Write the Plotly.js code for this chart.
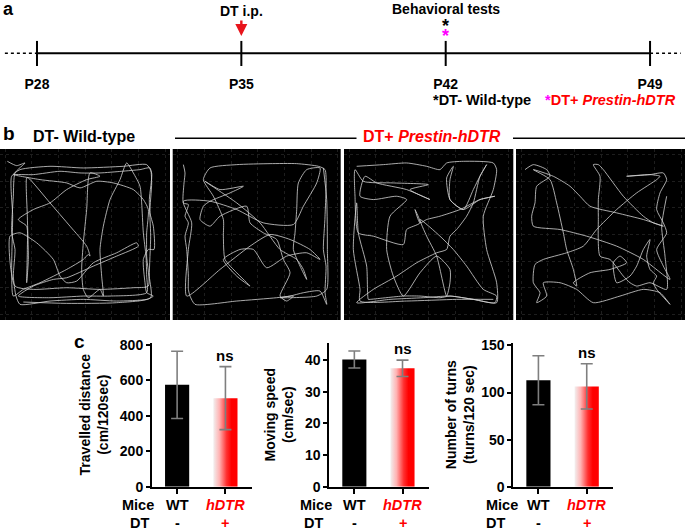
<!DOCTYPE html>
<html><head><meta charset="utf-8">
<script src="https://cdn.plot.ly/plotly-3.0.1.min.js"></script>
<style>html,body{margin:0;padding:0;background:#fff}#chart{width:685px;height:530px}</style>
</head><body><div id="chart"></div>
<script>
// ---------- Panel a: timeline ----------
const timelineDays = [28, 35, 42, 49];
const timelineLabels = ['P28', 'P35', 'P42', 'P49'];
const dottedBefore = [26.9, 28];
const dottedAfter = [49, 50.05];
const injectionDay = 35;
const testDay = 42;

// ---------- Panel b: open-field tracks (arena pixel coords, y downward) ----------
const track1 = [[22,35],[50,48],[75,40],[45,70],[40,140],[35,250],[45,300],[40,380],[48,440],[60,465],[150,455],[250,450],[350,455],[440,450],[460,440],[440,430],[435,400],[430,330],[445,300],[462,300],[460,230],[450,190],[455,100],[450,55],[420,60],[365,65],[300,70],[240,70],[180,65],[100,75],[40,75],[120,90],[200,100],[240,115],[290,95],[340,100],[400,120],[430,150],[445,180],[440,250],[440,320],[445,410],[400,415],[300,420],[200,415],[100,420],[45,410],[30,260],[60,250],[110,280],[160,330],[180,380],[200,400],[230,395],[280,340],[350,310],[410,280],[415,290],[350,320],[280,350],[200,385],[160,390],[100,410],[55,440],[150,445],[250,440],[330,440],[440,430],[440,380],[438,320],[430,250],[425,160],[420,110],[400,70],[380,40],[360,90],[330,150],[310,230],[300,300],[305,380],[310,440],[300,420],[265,445],[250,420],[245,360],[250,280],[260,180],[270,70],[300,80],[260,90],[200,120],[150,160],[100,180],[55,210],[80,230],[82,300],[80,400],[85,330],[82,200],[80,85],[85,85],[150,160],[210,230],[260,290],[270,320],[265,315],[250,330],[200,360],[120,400],[70,420],[40,440],[35,360],[38,200],[35,80],[60,60],[150,50],[250,55],[370,50],[440,45],[455,70],[448,150],[452,260],[448,380],[452,445],[350,460],[200,462],[70,458]];
const track2 = [[40,45],[45,70],[42,100],[40,160],[55,165],[45,200],[55,220],[45,260],[50,300],[55,380],[55,420],[60,440],[75,465],[200,455],[320,445],[360,440],[400,430],[450,425],[470,465],[465,430],[468,350],[460,300],[465,200],[465,60],[445,50],[380,42],[300,42],[200,45],[120,55],[100,90],[130,140],[160,210],[160,260],[165,330],[200,370],[240,410],[200,380],[160,330],[210,300],[250,300],[290,355],[350,320],[410,310],[450,330],[420,300],[360,270],[300,255],[240,290],[150,360],[50,440],[55,300],[65,220],[40,155],[120,155],[200,180],[280,220],[370,225],[400,170],[440,100],[450,55],[410,60],[385,100],[380,180],[375,250],[370,300],[390,350],[410,390],[400,360],[380,330],[330,300],[270,220],[200,160],[105,95],[150,120],[220,110],[180,130],[120,155],[100,170],[90,210],[120,230],[150,200],[230,170],[240,220],[280,250],[320,270],[340,330],[360,370],[330,440],[350,455],[370,440],[330,445],[440,440],[470,420],[472,300],[470,150],[460,55]];
const track3 = [[50,50],[130,45],[200,40],[260,50],[300,60],[320,40],[370,35],[460,40],[470,60],[460,120],[430,200],[440,300],[470,400],[470,460],[400,450],[330,440],[250,445],[150,450],[50,460],[100,420],[170,380],[230,340],[290,310],[320,300],[330,260],[350,240],[380,200],[400,160],[420,80],[440,45],[420,80],[400,120],[370,180],[330,150],[320,85],[340,50],[330,90],[330,150],[370,180],[420,150],[465,140],[420,150],[360,180],[300,200],[260,210],[240,220],[225,180],[240,220],[200,240],[190,285],[100,260],[55,250],[45,140],[45,60],[70,95],[160,100],[265,105],[210,120],[270,150],[200,120],[110,100],[75,80],[60,140],[100,150],[170,140],[200,150],[150,200],[140,300],[160,380],[190,440],[240,370],[290,320],[330,360],[330,400],[320,440],[290,320],[260,260],[240,210],[300,260],[340,300],[380,350],[430,420],[470,440],[465,460],[400,450],[330,440],[300,445],[240,440],[190,440],[90,450],[85,450],[80,350],[55,250],[50,160],[40,300],[60,420],[60,455],[200,455],[350,450],[460,450]];
const track4 = [[45,60],[70,45],[110,60],[120,80],[80,110],[75,160],[65,200],[70,230],[150,240],[230,260],[320,290],[400,330],[480,390],[460,350],[440,300],[470,250],[460,220],[440,180],[450,130],[470,90],[460,70],[420,75],[350,80],[420,75],[450,80],[440,90],[380,130],[320,180],[260,240],[220,290],[170,310],[100,330],[75,345],[70,400],[90,430],[80,460],[110,440],[100,400],[150,400],[200,420],[250,460],[330,440],[400,420],[450,430],[480,465],[440,420],[430,400],[440,380],[420,360],[410,320],[420,270],[400,300],[380,350],[360,380],[320,400],[310,340],[330,320],[350,340],[300,360],[240,370],[190,400],[200,410],[190,360],[170,300],[160,250],[140,160],[120,90],[70,60],[130,80],[180,110],[210,140],[240,170],[320,190],[400,210],[460,230],[430,220],[400,200],[340,140],[280,60],[265,45],[250,45],[270,80],[265,150],[265,200],[270,320],[300,330],[340,380],[360,400],[380,410],[420,400],[470,420],[465,320],[455,230],[470,140]];
const arenaXRanges = [[0,510],[8,512],[12,520],[18,525]];
const arenaGrid = [15,95,175,255,335,415,495];

// ---------- Panel c: behaviour ----------
const groupPos = [0, 1];
const miceLabels = ['WT', 'hDTR'];
const dtLabels = ['-', '+'];
const distanceMean = [575, 500];
const distanceErr = [190, 178];
const speedMean = [40.2, 37.4];
const speedErr = [2.7, 2.6];
const turnsMean = [113, 106.5];
const turnsErr = [26, 24];

const FONT = 'Liberation Sans, Arial, Helvetica, sans-serif';
const W = 685, H = 530;
const px = v => v / W;
const py = v => 1 - v / H;
const bold = (s, size, color) => ({family: FONT, size: size, color: color || '#000', weight: 'bold'});

const data = [];
const layout = {
  width: W, height: H, margin: {l:0, r:0, t:0, b:0},
  paper_bgcolor: '#fff', plot_bgcolor: 'rgba(0,0,0,0)',
  showlegend: false, font: {family: FONT, color: '#000'},
  annotations: [], shapes: []
};

// ---- Panel a ----
data.push({x: timelineDays, y: timelineDays.map(() => 0), xaxis: 'x', yaxis: 'y', type: 'scatter', mode: 'lines',
  line: {color: '#000', width: 2}, hoverinfo: 'skip',
  error_y: {type: 'constant', value: 1, width: 0, thickness: 2, color: '#000'}});
[dottedBefore, dottedAfter].forEach(seg => data.push({x: seg, y: [0, 0], xaxis: 'x', yaxis: 'y', type: 'scatter', mode: 'lines',
  line: {color: '#000', width: 1.5, dash: 'dot'}, hoverinfo: 'skip'}));
layout.xaxis = {domain: [px(4), px(681)], range: [26.87, 50.06], tickvals: timelineDays, ticktext: timelineLabels,
  ticks: '', showgrid: false, zeroline: false, showline: false, tickfont: bold('', 14), ticklabelstandoff: 8, fixedrange: true};
layout.yaxis = {domain: [py(66), py(40.7)], range: [-1, 1], visible: false, fixedrange: true};
layout.annotations.push(
  {text: '<b>a</b>', xref: 'paper', yref: 'paper', x: 0.001, y: py(8.5), xanchor: 'left', yanchor: 'middle', showarrow: false, font: bold('', 18)},
  {text: '<b>DT i.p.</b>', xref: 'x', yref: 'paper', x: injectionDay, y: py(10.5), xanchor: 'center', yanchor: 'middle', showarrow: false, font: bold('', 14)},
  {text: '', xref: 'x', yref: 'paper', x: injectionDay, y: py(36), ax: 0, ay: -17, showarrow: true, arrowhead: 2, arrowsize: 1, arrowwidth: 2.4, arrowcolor: '#e8141b'},
  {text: '<b>Behavioral tests</b>', xref: 'x', yref: 'paper', x: testDay, y: py(8.7), xanchor: 'center', yanchor: 'middle', showarrow: false, font: bold('', 14)},
  {text: '<b>*</b>', xref: 'x', yref: 'paper', x: testDay, y: py(26), xanchor: 'center', yanchor: 'middle', showarrow: false, font: bold('', 18)},
  {text: '<b>*</b>', xref: 'x', yref: 'paper', x: testDay, y: py(36), xanchor: 'center', yanchor: 'middle', showarrow: false, font: bold('', 18, '#ff00ff')},
  {text: '<b>*DT- Wild-type</b>', xref: 'paper', yref: 'paper', x: px(431), y: py(100), xanchor: 'left', yanchor: 'middle', showarrow: false, font: bold('', 14.5)},
  {text: '<b><span style="color:#ff00ff">*</span><span style="color:#ff0000">DT+ <i>Prestin-hDTR</i></span></b>', xref: 'paper', yref: 'paper', x: px(543), y: py(100), xanchor: 'left', yanchor: 'middle', showarrow: false, font: bold('', 14.5)}
);

// ---- Panel b ----
const tracks = [track1, track2, track3, track4];
const boxDomX = [[0, 170], [172.7, 340.7], [344, 513.3], [516, 685]];
tracks.forEach((tr, i) => {
  const n = i + 2;
  const xa = 'x' + n, ya = 'y' + n;
  data.push({x: tr.map(p => p[0]), y: tr.map(p => p[1]), xaxis: xa, yaxis: ya, type: 'scatter', mode: 'lines',
    line: {color: '#d4d4d4', width: 0.8, shape: 'spline', smoothing: 0.6}, hoverinfo: 'skip'});
  const off = arenaXRanges[i][0];
  layout['xaxis' + n] = {domain: [px(boxDomX[i][0]), px(boxDomX[i][1])], range: arenaXRanges[i], anchor: ya,
    tickvals: arenaGrid.map(v => v + off), showticklabels: false, ticks: '', showgrid: true, gridcolor: '#1e1e1e', griddash: 'dot', gridwidth: 1,
    zeroline: false, showline: false, fixedrange: true};
  layout['yaxis' + n] = {domain: [py(320), py(149)], range: [512, -2], anchor: xa,
    tickvals: arenaGrid, showticklabels: false, ticks: '', showgrid: true, gridcolor: '#1e1e1e', griddash: 'dot', gridwidth: 1,
    zeroline: false, showline: false, fixedrange: true};
  layout.shapes.push({type: 'rect', xref: xa + ' domain', yref: ya + ' domain', x0: 0, x1: 1, y0: 0, y1: 1,
    fillcolor: '#000', line: {width: 0}, layer: 'below'});
});
layout.annotations.push(
  {text: '<b>b</b>', xref: 'paper', yref: 'paper', x: 0.002, y: py(133), xanchor: 'left', yanchor: 'middle', showarrow: false, font: bold('', 19)},
  {text: '<b>DT- Wild-type</b>', xref: 'paper', yref: 'paper', x: px(84), y: py(136.5), xanchor: 'center', yanchor: 'middle', showarrow: false, font: bold('', 16)},
  {text: '<b>DT+ <i>Prestin-hDTR</i></b>', xref: 'paper', yref: 'paper', x: px(432), y: py(136.5), xanchor: 'center', yanchor: 'middle', showarrow: false, font: bold('', 16, '#ff0000')}
);
layout.shapes.push(
  {type: 'line', xref: 'paper', yref: 'paper', x0: px(175), x1: px(356.5), y0: py(138.3), y1: py(138.3), line: {color: '#000', width: 1.5}},
  {type: 'line', xref: 'paper', yref: 'paper', x0: px(513), x1: px(685), y0: py(138.3), y1: py(138.3), line: {color: '#000', width: 1.5}}
);

// ---- Panel c ----
const charts = [
  {n: 6, mean: distanceMean, err: distanceErr, dom: [152, 252], yr: [0, 813], tv: [0, 200, 400, 600, 800],
   title: 'Travelled distance<br>(cm/120sec)', standoff: 8, mice: 138, dt: 139.5},
  {n: 7, mean: speedMean, err: speedErr, dom: [329.3, 429], yr: [0, 45.5], tv: [0, 10, 20, 30, 40],
   title: 'Moving speed<br>(cm/sec)', standoff: 8, mice: 316, dt: 313},
  {n: 8, mean: turnsMean, err: turnsErr, dom: [513.3, 613.3], yr: [0, 152.9], tv: [0, 50, 100, 150],
   title: 'Number of turns<br>(turns/120 sec)', standoff: 3, mice: 501.5, dt: 495}
];
const groupColors = ['#000', '#ff0000'];
const groupItalic = [false, true];
const halfW = 0.25;
charts.forEach(c => {
  const xa = 'x' + c.n, ya = 'y' + c.n;
  // WT bar (solid black)
  data.push({type: 'bar', x: [groupPos[0]], y: [c.mean[0]], width: 2 * halfW, xaxis: xa, yaxis: ya,
    marker: {color: '#000', line: {width: 0}}, hoverinfo: 'skip'});
  // hDTR bar with white-to-red horizontal gradient
  const g = groupPos[1];
  data.push({type: 'scatter', mode: 'none', xaxis: xa, yaxis: ya, hoverinfo: 'skip',
    x: [g - halfW, g + halfW, g + halfW, g - halfW, g - halfW], y: [0, 0, c.mean[1], c.mean[1], 0],
    fill: 'toself',
    fillgradient: {type: 'horizontal', start: g - halfW, stop: g + halfW,
      colorscale: [[0, '#f2efef'], [0.25, '#ffb3b3'], [0.55, '#ff3030'], [0.75, '#ff0000'], [1, '#ff0000']]}});
  // error bars
  data.push({type: 'scatter', mode: 'markers', x: groupPos, y: c.mean, xaxis: xa, yaxis: ya, hoverinfo: 'skip',
    marker: {size: 1, color: 'rgba(0,0,0,0)'},
    error_y: {type: 'data', array: c.err, visible: true, color: '#7f7f7f', thickness: 1.6, width: 6}});
  layout['xaxis' + c.n] = {domain: [px(c.dom[0]), px(c.dom[1])], range: [-0.52, 1.55], anchor: ya,
    tickvals: groupPos, showticklabels: false, ticks: 'outside', ticklen: 5, tickwidth: 2, tickcolor: '#000',
    showline: true, linecolor: '#000', linewidth: 2, showgrid: false, zeroline: false, fixedrange: true};
  layout['yaxis' + c.n] = {domain: [py(486.7), py(342.7)], range: c.yr, anchor: xa, tickvals: c.tv,
    ticks: 'outside', ticklen: 4, tickwidth: 2, tickcolor: '#000', showline: true, linecolor: '#000', linewidth: 2,
    showgrid: false, zeroline: false, tickfont: bold('', 14), fixedrange: true,
    title: {text: '<b>' + c.title + '</b>', font: bold('', 14), standoff: c.standoff}};
  layout.annotations.push(
    {text: '<b>ns</b>', xref: xa, yref: ya, x: g, y: c.mean[1] + c.err[1], xanchor: 'center', yanchor: 'bottom', yshift: 1, showarrow: false, font: bold('', 15)},
    {text: '<b>Mice</b>', xref: 'paper', yref: 'paper', x: px(c.mice), y: py(505), xanchor: 'center', yanchor: 'middle', showarrow: false, font: bold('', 14.5)},
    {text: '<b>DT</b>', xref: 'paper', yref: 'paper', x: px(c.dt), y: py(522.5), xanchor: 'center', yanchor: 'middle', showarrow: false, font: bold('', 14.5)}
  );
  groupPos.forEach((gp, k) => layout.annotations.push(
    {text: groupItalic[k] ? '<b><i>' + miceLabels[k] + '</i></b>' : '<b>' + miceLabels[k] + '</b>',
     xref: xa, yref: 'paper', x: gp, y: py(505), xanchor: 'center', yanchor: 'middle', showarrow: false, font: bold('', 14.5, groupColors[k])},
    {text: '<b>' + dtLabels[k] + '</b>', xref: xa, yref: 'paper', x: gp, y: py(522.5), xanchor: 'center', yanchor: 'middle', showarrow: false, font: bold('', 14.5, groupColors[k])}
  ));
});
layout.annotations.push({text: '<b>c</b>', xref: 'paper', yref: 'paper', x: px(79), y: py(341), xanchor: 'center', yanchor: 'middle', showarrow: false, font: bold('', 19)});

Plotly.newPlot('chart', data, layout, {displayModeBar: false, staticPlot: true});
</script>
</body></html>
